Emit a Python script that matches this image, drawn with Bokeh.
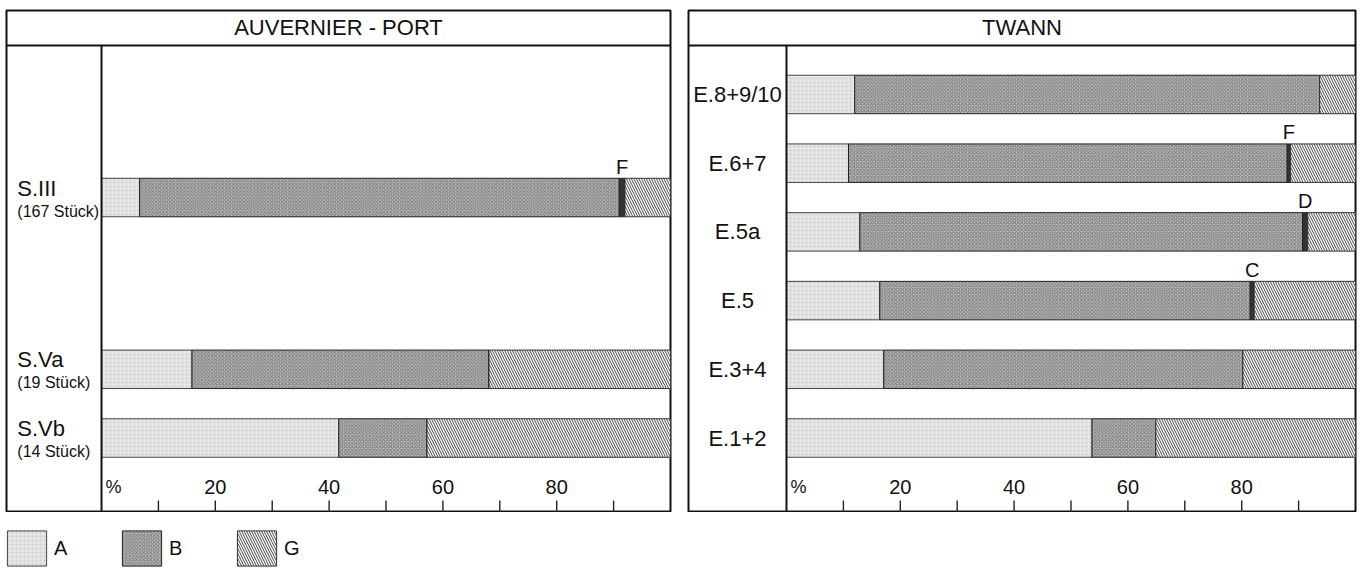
from bokeh.plotting import figure
from bokeh.models import ColumnDataSource, Legend, LegendItem, Range1d, Span
from bokeh.layouts import column, row
from bokeh.embed import file_html
from bokeh.resources import INLINE
from bokeh.core.properties import value

# ---------------- data ----------------
left_title = "AUVERNIER - PORT"
left_labels = ["S.III", "S.Va", "S.Vb"]
left_counts = ["(167 Stück)", "(19 Stück)", "(14 Stück)"]
left_A = [6.7, 15.9, 41.7]
left_B = [84.3, 52.2, 15.5]
left_M = [1.0, 0.0, 0.0]
left_M_label = ["F", "", ""]

right_title = "TWANN"
right_labels = ["E.8+9/10", "E.6+7", "E.5a", "E.5", "E.3+4", "E.1+2"]
right_A = [12.0, 10.9, 12.9, 16.4, 17.1, 53.7]
right_B = [81.7, 77.1, 77.8, 65.1, 63.1, 11.2]
right_M = [0.0, 0.6, 0.9, 0.7, 0.0, 0.0]
right_M_label = ["", "F", "D", "C", "", ""]

tick_values = [0, 20, 40, 60, 80]
tick_labels = ["%", "20", "40", "60", "80"]
tick_marks = [10, 20, 30, 40, 50, 60, 70, 80, 90]
legend_labels = ["A", "B", "G"]

# ---------------- layout (positions / styles) ----------------
left_rows = [3.5, 1, 0]
right_rows = [5, 4, 3, 2, 1, 0]
Y0, Y1 = -1.084, 6.222
TITLE_LINE = 5.713
TITLE_Y = 5.968
BAR_H = 0.56
FONT = "Liberation Sans"

STY_A = dict(fill_color="#e6e6e6", hatch_pattern="dot", hatch_color="#c8c8c8",
             hatch_scale=4, hatch_weight=1, line_color="#444", line_width=1)
STY_B = dict(fill_color="#bababa", hatch_pattern="diagonal_cross", hatch_color="#555555",
             hatch_scale=3.5, hatch_weight=0.7, line_color="#222", line_width=1)
STY_M = dict(fill_color="#333333", line_color="#222", line_width=1)
STY_G = dict(fill_color="#ffffff", hatch_pattern="left_diagonal_line", hatch_color="#333333",
             hatch_scale=5, hatch_weight=0.9, line_color="#333", line_width=1)


def panel(title, labels, counts, A, B, M, mlab, rows, width, mb_left, mb_right, x_start, centered):
    p = figure(width=width, height=512, x_range=Range1d(x_start, 100), y_range=Range1d(Y0, Y1),
               x_axis_type=None, y_axis_type=None, output_backend="svg", toolbar_location=None,
               min_border_left=mb_left, min_border_right=mb_right, min_border_top=10,
               min_border_bottom=0)
    p.grid.visible = False
    p.outline_line_color = "#111"
    p.outline_line_width = 2
    p.background_fill_color = "white"
    p.border_fill_color = "white"

    a0 = [0] * len(A)
    a1 = A
    b1 = [a + b for a, b in zip(A, B)]
    m1 = [b + m for b, m in zip(b1, M)]
    g1 = [100] * len(A)
    src = ColumnDataSource(dict(y=rows, a0=a0, a1=a1, b1=b1, m1=m1, g1=g1,
                                mx=[(b + m) / 2 for b, m in zip(b1, m1)],
                                my=[r + BAR_H / 2 + 0.01 for r in rows], ml=mlab))
    rA = p.hbar(y="y", left="a0", right="a1", height=BAR_H, source=src, **STY_A)
    rB = p.hbar(y="y", left="a1", right="b1", height=BAR_H, source=src, **STY_B)
    p.hbar(y="y", left="b1", right="m1", height=BAR_H, source=src, **STY_M)
    rG = p.hbar(y="y", left="m1", right="g1", height=BAR_H, source=src, **STY_G)
    p.text(x="mx", y="my", text="ml", source=src, text_align="center", text_baseline="bottom",
           text_font=value(FONT), text_font_size="20px", text_color="#111")

    # title row
    p.add_layout(Span(location=TITLE_LINE, dimension="width", line_color="#111", line_width=2))
    p.text(x=[(x_start + 100) / 2], y=[TITLE_Y], text=[title], text_align="center",
           text_baseline="middle", text_font=value(FONT), text_font_size="22px", text_color="#111")
    # axis line
    p.segment(x0=[0], y0=[Y0], x1=[0], y1=[TITLE_LINE], line_color="#111", line_width=2)
    # ticks
    p.segment(x0=tick_marks, y0=[Y0] * len(tick_marks), x1=tick_marks,
              y1=[Y0 + 0.175] * len(tick_marks), line_color="#222", line_width=1.4)
    p.text(x=tick_values[1:], y=[-0.72] * (len(tick_values) - 1), text=tick_labels[1:],
           text_align="center", text_baseline="middle", text_font=value(FONT),
           text_font_size="20px", text_color="#111")
    p.text(x=tick_values[:1], y=[-0.72], text=tick_labels[:1], x_offset=4,
           text_align="left", text_baseline="middle", text_font=value(FONT),
           text_font_size="18px", text_color="#111")

    # category labels
    if centered:
        p.text(x=[x_start / 2] * len(labels), y=rows, text=labels, text_align="center",
               text_baseline="middle", text_font=value(FONT), text_font_size="22px",
               text_color="#111")
    else:
        lx = x_start + 1.9
        p.text(x=[lx] * len(labels), y=[r + 0.138 for r in rows], text=labels,
               text_align="left", text_baseline="middle", text_font=value(FONT),
               text_font_size="22px", text_color="#111")
        p.text(x=[lx] * len(counts), y=[r - 0.197 for r in rows], text=counts,
               text_align="left", text_baseline="middle", text_font=value(FONT),
               text_font_size="16px", text_color="#111")
    return p


left = panel(left_title, left_labels, left_counts, left_A, left_B, left_M, left_M_label,
             left_rows, 680, 6, 10, -16.70, False)
right = panel(right_title, right_labels, None, right_A, right_B, right_M, right_M_label,
              right_rows, 685, 8, 10, -17.22, True)

# ---------------- legend ----------------
leg = figure(width=1365, height=58, x_range=Range1d(0, 1), y_range=Range1d(0, 1),
             x_axis_type=None, y_axis_type=None, output_backend="svg", toolbar_location=None,
             min_border=0)
leg.grid.visible = False
leg.outline_line_color = None
# one hidden row per legend swatch (placed outside the visible range)
hidden = ColumnDataSource(dict(y=[-5], l=[0], r=[1]))
lr = [leg.hbar(y="y", left="l", right="r", height=1, source=hidden, **s)
      for s in (STY_A, STY_B, STY_G)]
legend = Legend(items=[LegendItem(label=lab, renderers=[r]) for lab, r in zip(legend_labels, lr)],
                orientation="horizontal", location=(2, 0), glyph_width=49, glyph_height=44,
                label_standoff=3, spacing=43, padding=0, margin=0, border_line_color=None,
                background_fill_alpha=0, label_text_font=FONT, label_text_font_size="20px",
                label_text_color="#111", label_width=20)
leg.add_layout(legend)

layout = column(row(left, right), leg)
open("out.html", "w").write(file_html(layout, INLINE))
